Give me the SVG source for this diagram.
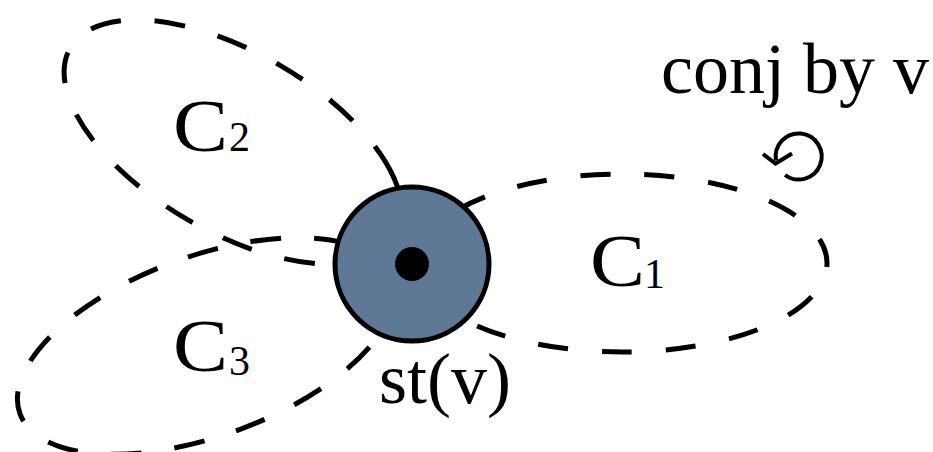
<svg xmlns="http://www.w3.org/2000/svg" width="933" height="452" viewBox="0 0 933 452">
<style>
.cyc{fill:none;stroke:#000;stroke-width:5;}
.lbl{font-family:"Liberation Serif","Times New Roman",serif;font-size:72px;fill:#000;}
.cap{font-size:75px;}
.sb{font-size:42px;}
</style>
<rect width="933" height="452" fill="#fff"/>
<g id="connectors">
<ellipse id="C2-loop" class="cyc" cx="233" cy="142" rx="188" ry="90" transform="rotate(30 233 142)" stroke-dasharray="0 90 31 33.8 31 33.8 31 33.8 31 33.8 31 33.8 31 33.8 31 33.8 31 33.8 31 33.8 31 33.8 31 33.8 67 200"/>
<ellipse id="C3-loop" class="cyc" cx="206" cy="346" rx="198" ry="90" transform="rotate(-20 206 346)" stroke-dasharray="31 33" stroke-dashoffset="-12"/>
<ellipse id="C1-loop" class="cyc" cx="622" cy="263" rx="205" ry="89" stroke-dasharray="30 34" stroke-dashoffset="26"/>
</g>
<g id="st-v">
<circle cx="412" cy="264" r="77" fill="#5f7895" stroke="#000" stroke-width="5"/>
<circle cx="412" cy="264" r="17" fill="#000"/>
<text class="lbl" x="379" y="403">st(v)</text>
</g>
<g id="conj-arrow" fill="none" stroke="#000" stroke-width="4">
<path d="M785 175 A23 23 0 1 0 776 160.5"/>
<polyline points="763,154 775.5,163.5 792,153.5"/>
</g>
<g id="label-conj">
<text class="lbl" x="661" y="93">conj by v</text>
</g>
<g id="label-C1">
<text class="lbl cap" transform="translate(590 285.7) scale(1.1 1)">C</text>
<text class="lbl sb" x="644" y="288.3">1</text>
</g>
<g id="label-C2">
<text class="lbl cap" transform="translate(173 150.7) scale(1.1 1)">C</text>
<text class="lbl sb" x="229" y="151">2</text>
</g>
<g id="label-C3">
<text class="lbl cap" transform="translate(173 370.7) scale(1.1 1)">C</text>
<text class="lbl sb" x="229" y="374.5">3</text>
</g>
</svg>
